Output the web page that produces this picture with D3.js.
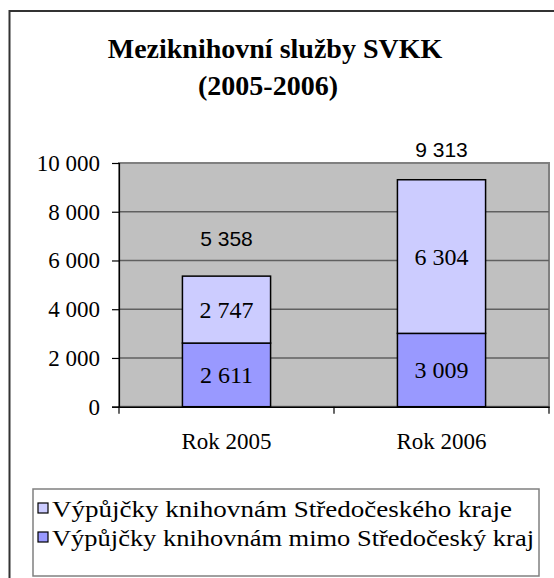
<!DOCTYPE html>
<html>
<head>
<meta charset="utf-8">
<script src="https://cdn.jsdelivr.net/npm/d3@7"></script>
<style>
    body { margin: 0; background: #fff; }
    .serif { font-family: 'Liberation Serif', 'Times New Roman', serif; }
    .sans { font-family: 'Liberation Sans', Arial, sans-serif; }
</style>
</head>
<body>
<script>
// data
const categories = ["Rok 2005", "Rok 2006"];
const seriesNames = ["Výpůjčky knihovnám mimo Středočeský kraj", "Výpůjčky knihovnám Středočeského kraje"];
const outside = [2611, 3009];   // bottom
const inside = [2747, 6304];    // top
const totals = [5358, 9313];
const yTicks = [0, 2000, 4000, 6000, 8000, 10000];
const colors = ["#9999ff", "#ccccff"];
// label offsets above bar top (excel put them a bit unevenly)
const totalLabelDy = [30, 23];

const width = 554, height = 578;
const fmt = n => d3.format(",")(n).replace(/,/g, " ");

let svg = d3.select("body").append("svg")
    .attr("width", width)
    .attr("height", height);

// outer frame (cut by the picture on right and bottom)
svg.append("rect")
    .attr("x", 9.5).attr("y", 11)
    .attr("width", 600).attr("height", 600)
    .attr("fill", "white")
    .attr("stroke", "#333").attr("stroke-width", 2);

// title
let title = svg.append("text")
    .attr("class", "serif")
    .attr("text-anchor", "middle")
    .attr("font-weight", "bold")
    .attr("font-size", "28px")
    .attr("fill", "black");
title.append("tspan").attr("x", 275).attr("y", 58).text("Meziknihovní služby SVKK");
title.append("tspan").attr("x", 268).attr("y", 95).text("(2005-2006)");

// plot area
let pl = 119, pr = 549, pt = 163, pb = 406.7;
let x = d3.scaleBand().domain(categories).range([pl, pr]);
let y = d3.scaleLinear().domain([0, 10000]).range([pb, pt]);
let barW = x.bandwidth() * 0.41;

svg.append("rect")
    .attr("x", pl).attr("y", pt)
    .attr("width", pr - pl).attr("height", pb - pt)
    .attr("fill", "#c0c0c0")
    .attr("stroke", "#808080").attr("stroke-width", 2);

// gridlines
svg.append("g").selectAll("line")
    .data(yTicks.filter(d => d > 0 && d < 10000))
    .join("line")
    .attr("x1", pl).attr("x2", pr)
    .attr("y1", d => y(d)).attr("y2", d => y(d))
    .attr("stroke", "#606060").attr("stroke-width", 1.5);

// y axis
let yAxis = svg.append("g")
    .attr("transform", `translate(${pl},0)`)
    .call(d3.axisLeft(y).tickValues(yTicks).tickFormat(fmt).tickSize(7).tickPadding(12));
yAxis.attr("font-family", null).attr("font-size", null);
yAxis.select(".domain").attr("stroke", "black").attr("stroke-width", 1.2);
yAxis.selectAll(".tick line").attr("stroke", "black").attr("stroke-width", 1.2);
yAxis.selectAll("text")
    .attr("class", "serif")
    .attr("font-size", "23px").attr("fill", "black");

// x axis
let xAxis = svg.append("g")
    .attr("transform", `translate(0,${pb})`)
    .call(d3.axisBottom(x).tickSize(0).tickPadding(26));
xAxis.attr("font-family", null).attr("font-size", null);
xAxis.select(".domain").attr("stroke", "black").attr("stroke-width", 1.5);
xAxis.selectAll("text")
    .attr("class", "serif")
    .attr("font-size", "23px").attr("fill", "black");
// category boundary ticks
svg.append("g").selectAll("line")
    .data(categories.map(c => x(c)).concat([pr]))
    .join("line")
    .attr("x1", d => d).attr("x2", d => d)
    .attr("y1", pb).attr("y2", pb + 7)
    .attr("stroke", "black").attr("stroke-width", 1.2);

// stacked bars
let stack = [outside, inside];
stack.forEach((vals, s) => {
    let g = svg.append("g");
    g.selectAll("rect")
        .data(categories)
        .join("rect")
        .attr("x", (c) => x(c) + (x.bandwidth() - barW) / 2)
        .attr("y", (c, i) => y(vals[i] + (s ? outside[i] : 0)))
        .attr("width", barW)
        .attr("height", (c, i) => y(s ? outside[i] : 0) - y(vals[i] + (s ? outside[i] : 0)))
        .attr("fill", colors[s])
        .attr("stroke", "black").attr("stroke-width", 1.5);
    g.selectAll("text")
        .data(categories)
        .join("text")
        .attr("class", "serif")
        .attr("x", c => x(c) + x.bandwidth() / 2)
        .attr("y", (c, i) => y((s ? outside[i] : 0) + vals[i] / 2))
        .attr("dy", "0.35em")
        .attr("text-anchor", "middle")
        .attr("font-size", "24px")
        .text((c, i) => fmt(vals[i]));
});

// totals
svg.append("g").selectAll("text")
    .data(categories)
    .join("text")
    .attr("class", "sans")
    .attr("x", c => x(c) + x.bandwidth() / 2)
    .attr("y", (c, i) => y(totals[i]) - totalLabelDy[i])
    .attr("text-anchor", "middle")
    .attr("font-size", "21px")
    .text((c, i) => fmt(totals[i]));

// legend
let legend = svg.append("g");
legend.append("rect")
    .attr("x", 33).attr("y", 489)
    .attr("width", 506).attr("height", 87)
    .attr("fill", "white")
    .attr("stroke", "#808080").attr("stroke-width", 1.5);
let legendItems = [1, 0];
let legendLen = [460, 482];   // text is drawn a bit stretched in the original
legendItems.forEach((s, i) => {
    let yy = 508 + i * 29;
    legend.append("rect")
        .attr("x", 38).attr("y", yy - 5)
        .attr("width", 10).attr("height", 10)
        .attr("fill", colors[s])
        .attr("stroke", "black").attr("stroke-width", 1.2);
    legend.append("text")
        .attr("class", "serif")
        .attr("x", 52).attr("y", yy + 9)
        .attr("font-size", "23px")
        .attr("textLength", legendLen[i])
        .attr("lengthAdjust", "spacingAndGlyphs")
        .text(seriesNames[s]);
});
</script>
</body>
</html>
